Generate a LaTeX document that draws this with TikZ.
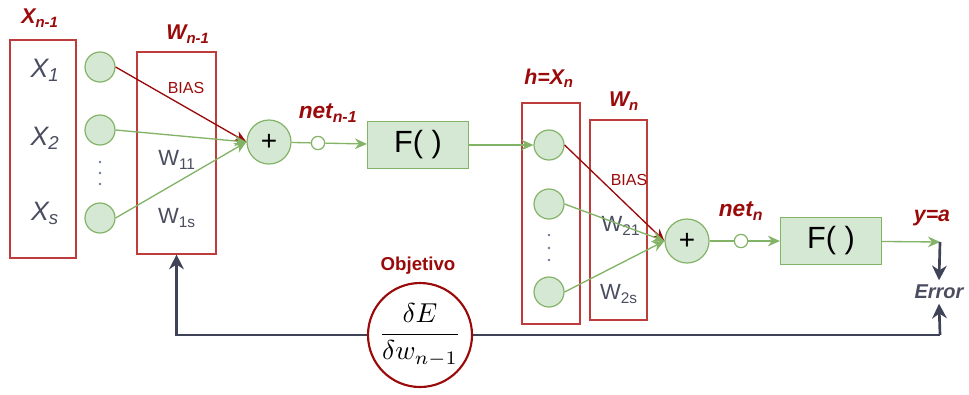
\documentclass[tikz,border=0pt]{standalone}
\usepackage{fontspec}
\setmainfont{Liberation Sans}
\usepackage{amsmath}
\usetikzlibrary{positioning,arrows.meta,calc}
\definecolor{nodefill}{HTML}{D5E8D4}
\definecolor{nodeline}{HTML}{82B366}
\definecolor{darkred}{HTML}{9B0A0A}
\definecolor{boxred}{HTML}{BE3C3C}
\definecolor{inkgray}{HTML}{4A4D60}
\definecolor{backline}{HTML}{3F4358}
\definecolor{dotblue}{HTML}{6A7A99}

\begin{document}
\begin{tikzpicture}[x=0.75pt, y=-0.75pt,
  neuron/.style={circle, draw=nodeline, fill=nodefill, line width=0.9pt, minimum size=22.5pt, inner sep=0pt},
  sumnode/.style={neuron, minimum size=33pt, font=\fontsize{21}{21}\selectfont},
  netdot/.style={circle, draw=nodeline, fill=white, line width=0.9pt, minimum size=10pt, inner sep=0pt},
  actbox/.style={draw=nodeline, fill=nodefill, line width=0.9pt, minimum width=75.75pt, minimum height=35.25pt, font=\fontsize{23}{23}\selectfont},
  layerbox/.style={draw=boxred, line width=0.8pt, inner sep=0pt},
  tag/.style={text=darkred, font=\fontsize{16}{16}\selectfont\bfseries\itshape},
  invar/.style={text=inkgray, font=\fontsize{20}{20}\selectfont\itshape},
  weight/.style={text=inkgray, font=\fontsize{16.5}{16.5}\selectfont},
  biastext/.style={text=darkred, font=\fontsize{12}{12}\selectfont},
  gflow/.style={draw=nodeline, line width=1pt, -{Stealth[length=9pt,width=8pt]}},
  gline/.style={draw=nodeline, line width=1pt},
  rflow/.style={draw=darkred, line width=1pt, -{Stealth[length=9pt,width=8pt]}},
  back/.style={draw=backline, line width=2pt, -{Stealth[length=11pt,width=11pt]}}
]
  % coordinates are in pixels of the 969x394 frame, y downwards
  \useasboundingbox (0,0) rectangle (969,394);

  % input layer X_{n-1}
  \node[layerbox, minimum width=49.5pt, minimum height=163.5pt] (xbox) at (43,149) {};
  \node[tag] (xlab) at (40,18) {X\textsubscript{n-1}};
  \node[invar] (x1) at (45,70) {X\textsubscript{1}};
  \node[invar] (x2) at (45,138) {X\textsubscript{2}};
  \node[invar] (xs) at (45,213) {X\textsubscript{s}};
  \node[neuron] (a1) at (100,67) {};
  \node[neuron] (a2) at (100,130) {};
  \node[neuron] (as) at (100,218) {};
  \foreach \yy in {162,173,184} \fill[dotblue] (100,\yy) circle (1.1pt);

  % weights W_{n-1}
  \node[layerbox, minimum width=59.25pt, minimum height=151.5pt] (wprev) at (176.5,153) {};
  \node[tag] (wprevlab) at (188,34) {W\textsubscript{n-1}};
  \node[biastext] (bias1) at (186,88) {BIAS};
  \node[weight] (w11) at (177,160) {W\textsubscript{11}};
  \node[weight] (w1s) at (177,218) {W\textsubscript{1s}};

  % first neuron
  \node[sumnode] (sum1) at (269,142) {+};
  \node[netdot] (net1) at (318,143) {};
  \node[tag, font=\fontsize{17}{17}\selectfont\bfseries\itshape] (net1lab) at (328,113) {net\textsubscript{n-1}};
  \node[actbox] (f1) at (418,145) {F( )};

  % hidden layer h = X_n
  \node[layerbox, minimum width=43.5pt, minimum height=165.75pt] (hbox) at (551,213.5) {};
  \node[tag] (hlab) at (549,78) {h=X\textsubscript{n}};
  \node[neuron] (h1) at (549,145) {};
  \node[neuron] (h2) at (549,204) {};
  \node[neuron] (hs) at (549,292) {};
  \foreach \yy in {235,248,260} \fill[dotblue] (549,\yy) circle (1.1pt);

  % weights W_n
  \node[layerbox, minimum width=42.75pt, minimum height=150pt] (wcur) at (618.5,220) {};
  \node[tag] (wcurlab) at (624,101) {W\textsubscript{n}};
  \node[biastext] (bias2) at (629,180) {BIAS};
  \node[weight] (w21) at (621,226) {W\textsubscript{21}};
  \node[weight] (w2s) at (619,294) {W\textsubscript{2s}};

  % output neuron
  \node[sumnode] (sum2) at (687,241) {+};
  \node[netdot] (net2) at (741,241) {};
  \node[tag, font=\fontsize{17}{17}\selectfont\bfseries\itshape] (net2lab) at (741,211) {net\textsubscript{n}};
  \node[actbox] (f2) at (831,241) {F( )};
  \node[tag] (ylab) at (932,218) {y=a};
  \coordinate (yout) at (940,242);
  \node[text=inkgray, font=\fontsize{15}{15}\selectfont\bfseries\itshape] (err) at (939,292) {Error};
  \coordinate (corner) at (940,335);

  % connectors
  \draw[rflow] (a1.east) -- (sum1.west);
  \draw[gflow] (a2.east) -- (sum1.west);
  \draw[gflow] (as.east) -- (sum1.west);
  \draw[gline] (sum1) -- (net1);
  \draw[gflow] (net1) -- (f1);
  \draw[gflow] (f1) -- (h1);
  \draw[rflow] (h1.east) -- (sum2.west);
  \draw[gflow] (h2.east) -- (sum2.west);
  \draw[gflow] (hs.east) -- (sum2.west);
  \draw[gline] (sum2) -- (net2);
  \draw[gflow] (net2) -- (f2);
  \draw[gflow] (f2) -- (yout);

  % error feedback
  \draw[back] (yout) -- (err.north);
  \draw[back] (corner) -- (err.south);
  \draw[back] (corner) -- (corner -| wprev.south) -- (wprev.south);
  \node[circle, draw=darkred, line width=1.6pt, fill=white, minimum size=78pt, inner sep=0pt,
        label=center:{\scalebox{2.05}{$\dfrac{\delta E}{\delta w_{n-1}}$}}] (obj) at (420,335) {};
  \node[tag, font=\fontsize{14}{14}\selectfont\bfseries] (objlab) at (418,266) {Objetivo};
\end{tikzpicture}
\end{document}
